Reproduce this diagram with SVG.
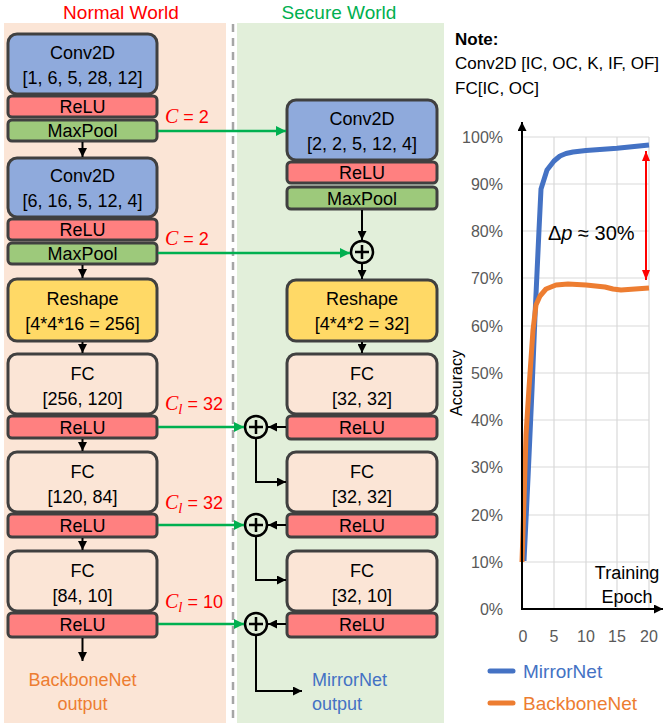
<svg xmlns="http://www.w3.org/2000/svg" width="664" height="727" viewBox="0 0 664 727">
<defs>
<style>
text{font-family:"Liberation Sans",Arial,sans-serif;}
.bx{stroke:#404040;stroke-width:3;}
.conv{fill:#8FAADC;}
.relu{fill:#FF8080;}
.pool{fill:#9DC97B;}
.resh{fill:#FFD966;}
.fc{fill:#FBE5D6;}
.t{font-size:18px;fill:#000;text-anchor:middle;}
.lbl{font-size:18px;fill:#FF0000;}
.math{font-family:"Liberation Serif","Times New Roman",serif;font-style:italic;}
.blk{stroke:#000;stroke-width:2;fill:none;}
.grn{stroke:#00B050;stroke-width:2.5;fill:none;}
.plus{stroke:#000;stroke-width:2.5;fill:none;}
.grid{stroke:#D9D9D9;stroke-width:1.2;}
.yl{font-size:16px;fill:#595959;text-anchor:end;}
.xl{font-size:16px;fill:#595959;text-anchor:middle;}
</style>
<marker id="ab" viewBox="0 0 10 10" refX="10" refY="5" markerWidth="9" markerHeight="9" markerUnits="userSpaceOnUse" orient="auto"><path d="M0,0 L10,5 L0,10 z" fill="#000"/></marker>
<marker id="ag" viewBox="0 0 10 10" refX="10" refY="5" markerWidth="10" markerHeight="10" markerUnits="userSpaceOnUse" orient="auto"><path d="M0,0 L10,5 L0,10 z" fill="#00B050"/></marker>
<marker id="ar" viewBox="0 0 10 10" refX="10" refY="5" markerWidth="10" markerHeight="12" markerUnits="userSpaceOnUse" orient="auto"><path d="M0,1 L10,5 L0,9 z" fill="#FF0000"/></marker>
</defs>

<g id="backgrounds">
<rect x="4" y="23" width="222" height="700" fill="#FBE5D6"/>
<rect x="237" y="23" width="207" height="700" fill="#E2EFDA"/>
<line x1="233" y1="24" x2="233" y2="723" stroke="#A6A6A6" stroke-width="2.5" stroke-dasharray="8,6"/>
<text x="121" y="19" font-size="19" fill="#FF0000" text-anchor="middle">Normal World</text>
<text x="339" y="19" font-size="19" fill="#00B050" text-anchor="middle">Secure World</text>
</g>

<g id="n-conv1"><rect class="bx conv" x="8" y="34" width="149" height="60" rx="9"/><text class="t" x="82.5" y="59">Conv2D</text><text class="t" x="82.5" y="84">[1, 6, 5, 28, 12]</text></g>
<g id="n-relu1"><rect class="bx relu" x="8" y="96" width="149" height="21" rx="4"/><text class="t" x="82.5" y="113">ReLU</text></g>
<g id="n-pool1"><rect class="bx pool" x="8" y="120" width="149" height="21" rx="4"/><text class="t" x="82.5" y="137">MaxPool</text></g>
<g id="n-conv2"><rect class="bx conv" x="8" y="158" width="149" height="59" rx="9"/><text class="t" x="82.5" y="182">Conv2D</text><text class="t" x="82.5" y="207">[6, 16, 5, 12, 4]</text></g>
<g id="n-relu2"><rect class="bx relu" x="8" y="219" width="149" height="21" rx="4"/><text class="t" x="82.5" y="236">ReLU</text></g>
<g id="n-pool2"><rect class="bx pool" x="8" y="243" width="149" height="21" rx="4"/><text class="t" x="82.5" y="260">MaxPool</text></g>
<g id="n-reshape"><rect class="bx resh" x="8" y="279" width="149" height="62" rx="9"/><text class="t" x="82.5" y="305">Reshape</text><text class="t" x="82.5" y="330">[4*4*16 = 256]</text></g>
<g id="n-fc1"><rect class="bx fc" x="8" y="354" width="149" height="60" rx="9"/><text class="t" x="82.5" y="380">FC</text><text class="t" x="82.5" y="405">[256, 120]</text></g>
<g id="n-relu3"><rect class="bx relu" x="8" y="416" width="149" height="22" rx="4"/><text class="t" x="82.5" y="434">ReLU</text></g>
<g id="n-fc2"><rect class="bx fc" x="8" y="452" width="149" height="60" rx="9"/><text class="t" x="82.5" y="478">FC</text><text class="t" x="82.5" y="503">[120, 84]</text></g>
<g id="n-relu4"><rect class="bx relu" x="8" y="514" width="149" height="23" rx="4"/><text class="t" x="82.5" y="532">ReLU</text></g>
<g id="n-fc3"><rect class="bx fc" x="8" y="551" width="149" height="60" rx="9"/><text class="t" x="82.5" y="577">FC</text><text class="t" x="82.5" y="602">[84, 10]</text></g>
<g id="n-relu5"><rect class="bx relu" x="8" y="613" width="149" height="24" rx="4"/><text class="t" x="82.5" y="631">ReLU</text></g>
<g id="n-out"><text x="82.5" y="686" font-size="18" fill="#ED7D31" text-anchor="middle">BackboneNet</text><text x="82.5" y="710" font-size="18" fill="#ED7D31" text-anchor="middle">output</text></g>

<g id="s-conv"><rect class="bx conv" x="287" y="100" width="150" height="60" rx="9"/><text class="t" x="362" y="125">Conv2D</text><text class="t" x="362" y="150">[2, 2, 5, 12, 4]</text></g>
<g id="s-relu1"><rect class="bx relu" x="287" y="162" width="150" height="21" rx="4"/><text class="t" x="362" y="179">ReLU</text></g>
<g id="s-pool"><rect class="bx pool" x="287" y="187" width="150" height="22" rx="4"/><text class="t" x="362" y="205">MaxPool</text></g>
<g id="s-add1"><circle class="plus" cx="362" cy="252" r="11"/><path class="plus" d="M355,252 H369 M362,245 V259"/></g>
<g id="s-reshape"><rect class="bx resh" x="287" y="280" width="150" height="61" rx="9"/><text class="t" x="362" y="305">Reshape</text><text class="t" x="362" y="330">[4*4*2 = 32]</text></g>
<g id="s-fc1"><rect class="bx fc" x="287" y="354" width="150" height="60" rx="9"/><text class="t" x="362" y="380">FC</text><text class="t" x="362" y="405">[32, 32]</text></g>
<g id="s-relu2"><rect class="bx relu" x="287" y="416" width="150" height="23" rx="4"/><text class="t" x="362" y="434">ReLU</text></g>
<g id="s-add2"><circle class="plus" cx="256" cy="427" r="11"/><path class="plus" d="M249,427 H263 M256,420 V434"/></g>
<g id="s-fc2"><rect class="bx fc" x="287" y="452" width="150" height="60" rx="9"/><text class="t" x="362" y="478">FC</text><text class="t" x="362" y="503">[32, 32]</text></g>
<g id="s-relu3"><rect class="bx relu" x="287" y="514" width="150" height="23" rx="4"/><text class="t" x="362" y="532">ReLU</text></g>
<g id="s-add3"><circle class="plus" cx="256" cy="525" r="11"/><path class="plus" d="M249,525 H263 M256,518 V532"/></g>
<g id="s-fc3"><rect class="bx fc" x="287" y="551" width="150" height="60" rx="9"/><text class="t" x="362" y="577">FC</text><text class="t" x="362" y="602">[32, 10]</text></g>
<g id="s-relu4"><rect class="bx relu" x="287" y="613" width="150" height="24" rx="4"/><text class="t" x="362" y="631">ReLU</text></g>
<g id="s-add4"><circle class="plus" cx="256" cy="624" r="11"/><path class="plus" d="M249,624 H263 M256,617 V631"/></g>
<g id="s-out"><text x="312" y="686" font-size="18" fill="#4472C4">MirrorNet</text><text x="312" y="710" font-size="18" fill="#4472C4">output</text></g>

<g id="connectors">
<line class="blk" x1="82.5" y1="142" x2="82.5" y2="157" marker-end="url(#ab)"/>
<line class="blk" x1="82.5" y1="265" x2="82.5" y2="278" marker-end="url(#ab)"/>
<line class="blk" x1="82.5" y1="342" x2="82.5" y2="353" marker-end="url(#ab)"/>
<line class="blk" x1="82.5" y1="439" x2="82.5" y2="451" marker-end="url(#ab)"/>
<line class="blk" x1="82.5" y1="538" x2="82.5" y2="550" marker-end="url(#ab)"/>
<line class="blk" x1="82.5" y1="638" x2="82.5" y2="661" marker-end="url(#ab)"/>
<line class="blk" x1="362" y1="210" x2="362" y2="240" marker-end="url(#ab)"/>
<line class="blk" x1="362" y1="264" x2="362" y2="279" marker-end="url(#ab)"/>
<line class="blk" x1="362" y1="342" x2="362" y2="353" marker-end="url(#ab)"/>
<line class="blk" x1="286" y1="427" x2="268" y2="427" marker-end="url(#ab)"/>
<line class="blk" x1="286" y1="525" x2="268" y2="525" marker-end="url(#ab)"/>
<line class="blk" x1="286" y1="624" x2="268" y2="624" marker-end="url(#ab)"/>
<path class="blk" d="M256,439 V482 H286" marker-end="url(#ab)"/>
<path class="blk" d="M256,537 V580 H286" marker-end="url(#ab)"/>
<path class="blk" d="M256,636 V691 H302" marker-end="url(#ab)"/>
<line class="grn" x1="158" y1="131" x2="286" y2="131" marker-end="url(#ag)"/>
<line class="grn" x1="158" y1="253" x2="350" y2="253" marker-end="url(#ag)"/>
<line class="grn" x1="158" y1="427" x2="244" y2="427" marker-end="url(#ag)"/>
<line class="grn" x1="158" y1="525" x2="244" y2="525" marker-end="url(#ag)"/>
<line class="grn" x1="158" y1="624" x2="244" y2="624" marker-end="url(#ag)"/>
<text class="lbl" x="165" y="123"><tspan class="math" font-size="20">C</tspan> = 2</text>
<text class="lbl" x="165" y="245"><tspan class="math" font-size="20">C</tspan> = 2</text>
<text class="lbl" x="165" y="410"><tspan class="math" font-size="20">C</tspan><tspan class="math" font-size="15" dy="4">l</tspan><tspan dy="-4"> = 32</tspan></text>
<text class="lbl" x="165" y="509"><tspan class="math" font-size="20">C</tspan><tspan class="math" font-size="15" dy="4">l</tspan><tspan dy="-4"> = 32</tspan></text>
<text class="lbl" x="165" y="608"><tspan class="math" font-size="20">C</tspan><tspan class="math" font-size="15" dy="4">l</tspan><tspan dy="-4"> = 10</tspan></text>
</g>

<g id="note">
<text x="455" y="45" font-size="17" font-weight="bold">Note:</text>
<text x="455" y="69" font-size="17">Conv2D [IC, OC, K, IF, OF]</text>
<text x="455" y="94" font-size="17">FC[IC, OC]</text>
</g>

<g id="chart">
<g class="grid">
<line x1="522" y1="137" x2="649" y2="137"/><line x1="522" y1="184" x2="649" y2="184"/><line x1="522" y1="231" x2="649" y2="231"/><line x1="522" y1="278" x2="649" y2="278"/><line x1="522" y1="326" x2="649" y2="326"/><line x1="522" y1="373" x2="649" y2="373"/><line x1="522" y1="420" x2="649" y2="420"/><line x1="522" y1="467" x2="649" y2="467"/><line x1="522" y1="515" x2="649" y2="515"/><line x1="522" y1="562" x2="649" y2="562"/>
<line x1="554" y1="137" x2="554" y2="609"/><line x1="586" y1="137" x2="586" y2="609"/><line x1="617" y1="137" x2="617" y2="609"/><line x1="649" y1="137" x2="649" y2="609"/>
</g>
<text class="yl" x="503" y="143">100%</text><text class="yl" x="503" y="190">90%</text><text class="yl" x="503" y="237">80%</text><text class="yl" x="503" y="284">70%</text><text class="yl" x="503" y="332">60%</text><text class="yl" x="503" y="379">50%</text><text class="yl" x="503" y="426">40%</text><text class="yl" x="503" y="473">30%</text><text class="yl" x="503" y="521">20%</text><text class="yl" x="503" y="568">10%</text><text class="yl" x="503" y="615">0%</text>
<text class="xl" x="523" y="642">0</text><text class="xl" x="554" y="642">5</text><text class="xl" x="586" y="642">10</text><text class="xl" x="617" y="642">15</text><text class="xl" x="649" y="642">20</text>
<text x="462" y="383" font-size="16" fill="#000" text-anchor="middle" transform="rotate(-90 462 383)">Accuracy</text>
<polyline fill="none" stroke="#4472C4" stroke-width="5" stroke-linejoin="round" points="524,561 528,478 532,390 535,316 539,230 541,189 547,170 554,161 560,156 566,153.5 573,152 586,150.5 617,148.3 649,145"/>
<polyline fill="none" stroke="#ED7D31" stroke-width="5" stroke-linejoin="round" points="522,562 524,500 526,435 529,388 533,330 536,305 540,296 546,289 556,285 568,284 586,285 605,287 613,289 621,290 635,289 649,288"/>
<line x1="522" y1="609" x2="522" y2="122" stroke="#000" stroke-width="2" marker-end="url(#ab)"/>
<line x1="521" y1="609" x2="663" y2="609" stroke="#000" stroke-width="2" marker-end="url(#ab)"/>
<line x1="646" y1="215" x2="646" y2="151" stroke="#FF0000" stroke-width="2" marker-end="url(#ar)"/>
<line x1="646" y1="215" x2="646" y2="280" stroke="#FF0000" stroke-width="2" marker-end="url(#ar)"/>
<text x="548" y="240" font-size="20" font-family="Liberation Serif,serif">Δ<tspan font-style="italic">p</tspan> ≈ 30%</text>
<text x="627" y="579" font-size="18" text-anchor="middle">Training</text>
<text x="627" y="603" font-size="18" text-anchor="middle">Epoch</text>
<line x1="490" y1="671" x2="513" y2="671" stroke="#4472C4" stroke-width="5" stroke-linecap="round"/>
<text x="523" y="678" font-size="19" fill="#4472C4">MirrorNet</text>
<line x1="490" y1="703" x2="513" y2="703" stroke="#ED7D31" stroke-width="5" stroke-linecap="round"/>
<text x="523" y="710" font-size="19" fill="#ED7D31">BackboneNet</text>
</g>
</svg>
